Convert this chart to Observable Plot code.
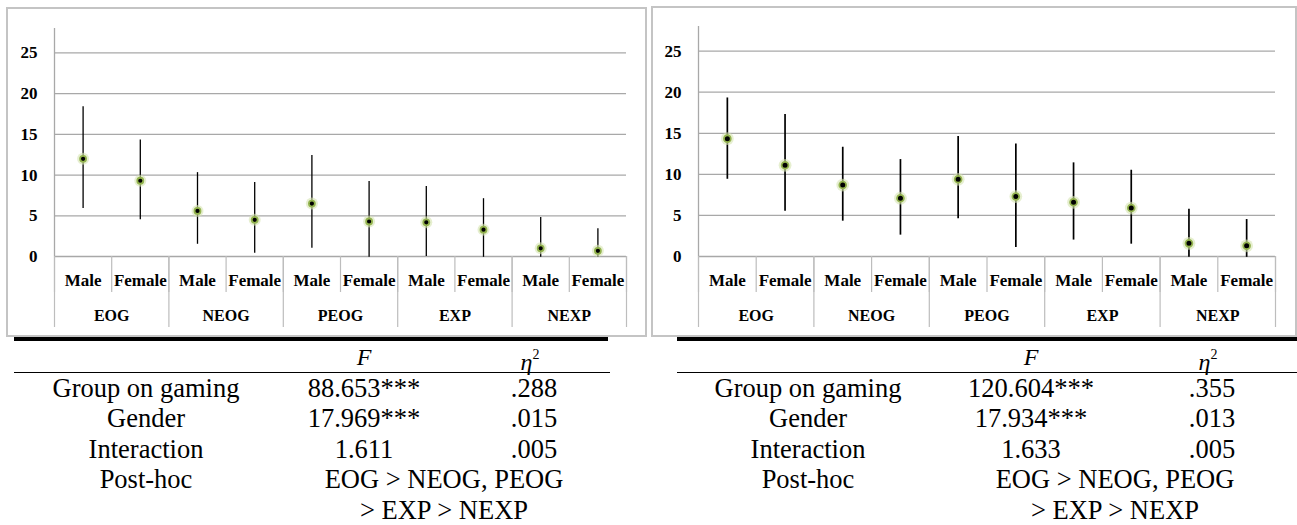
<!DOCTYPE html>
<html>
<head>
<meta charset="utf-8">
<script src="https://cdn.jsdelivr.net/npm/d3@7"></script>
<script src="https://cdn.jsdelivr.net/npm/@observablehq/plot@0.6"></script>
<style>
  html, body { margin:0; padding:0; background:#fff; }
  body { width:1297px; height:525px; position:relative; overflow:hidden; font-family:'Liberation Serif','Times New Roman',serif; color:#000; }
  .panel { position:absolute; border:2px solid #c4c4c4; box-sizing:border-box; background:#fff; }
  .chart { position:absolute; top:0; }
  .rule { position:absolute; background:#000; }
  .cell { position:absolute; white-space:nowrap; transform:translateX(-50%); font-family:'Liberation Serif'; font-size:26.5px; line-height:30.5px; }
  .hdr { position:absolute; white-space:nowrap; transform:translateX(-50%); font-family:'Liberation Serif'; font-size:24px; line-height:24px; font-style:italic; }
  .hdr sup { font-style:normal; font-size:14px; position:relative; top:-2px; }
</style>
</head>
<body>
<div class="panel" style="left:6px;top:7px;width:641px;height:330px;"></div>
<div class="panel" style="left:651px;top:6px;width:646px;height:331px;"></div>
<div id="c1" class="chart" style="left:0px;"></div>
<div id="c2" class="chart" style="left:650px;"></div>
<div id="t1"></div>
<div id="t2"></div>
<script>
// ---- data ----
const groups = ["EOG", "NEOG", "PEOG", "EXP", "NEXP"];
const genders = ["Male", "Female"];
const yTicks = [0, 5, 10, 15, 20, 25];

const leftMean = [12.0, 9.3, 5.6, 4.5, 6.5, 4.3, 4.2, 3.3, 1.0, 0.7];
const leftLow  = [5.9, 4.5, 1.5, 0.4, 1.0, -0.1, 0.0, -0.1, -0.1, -0.1];
const leftHigh = [18.4, 14.3, 10.3, 9.1, 12.4, 9.2, 8.6, 7.1, 4.8, 3.4];

const rightMean = [14.35, 11.1, 8.7, 7.1, 9.4, 7.3, 6.6, 5.9, 1.6, 1.3];
const rightLow  = [9.4, 5.5, 4.3, 2.6, 4.6, 1.1, 2.0, 1.5, -0.1, -0.1];
const rightHigh = [19.3, 17.3, 13.3, 11.8, 14.6, 13.7, 11.4, 10.5, 5.75, 4.5];

const rowLabels = ["Group on gaming", "Gender", "Interaction", "Post-hoc"];
const leftF   = ["88.653***", "17.969***", "1.611"];
const leftEta = [".288", ".015", ".005"];
const rightF   = ["120.604***", "17.934***", "1.633"];
const rightEta = [".355", ".013", ".005"];
const postHoc = ["EOG > NEOG, PEOG", "> EXP > NEXP"];

// ---- charts ----
function makeChart(mean, low, high, layout) {
  const n = mean.length;
  const data = mean.map((m, i) => ({
    x: i + 0.5, m, lo: low[i], hi: high[i],
    gender: genders[i % genders.length]
  }));
  const groupData = groups.map((name, j) => ({ x: j * 2 + 1, name }));
  const bounds = d3.range(n + 1);
  const groupBounds = d3.range(0, n + 1, 2);
  const gridColor = "#a8a8a8";
  return Plot.plot({
    width: layout.width,
    height: 337,
    marginLeft: layout.marginLeft,
    marginRight: layout.marginRight,
    marginTop: layout.marginTop,
    marginBottom: 81,
    style: { background: "transparent", fontFamily: "'Liberation Serif'", color: "#000" },
    x: { domain: [0, n], axis: null },
    y: { domain: [0, 28], axis: null },
    marks: [
      Plot.gridY(yTicks, { stroke: gridColor, strokeOpacity: 1, strokeWidth: 1.3 }),
      Plot.ruleX([0], { stroke: gridColor, strokeWidth: 1.3 }),
      Plot.axisX(bounds, { tickSize: 36, tickFormat: () => "", stroke: "#bdbdbd", strokeWidth: 1.2, label: null }),
      Plot.axisX(groupBounds, { tickSize: 71, tickFormat: () => "", stroke: "#bdbdbd", strokeWidth: 1.2, label: null }),
      Plot.axisY(yTicks, { tickSize: 0, tickPadding: 17, fontSize: 17, fontWeight: "bold", fontFamily: "Liberation Serif", label: null }),
      Plot.text(data, { x: "x", text: "gender", frameAnchor: "bottom", lineAnchor: "middle", dy: 24, fontSize: 17, fontWeight: "bold", fontFamily: "Liberation Serif" }),
      Plot.text(groupData, { x: "x", text: "name", frameAnchor: "bottom", lineAnchor: "middle", dy: 59, fontSize: 16, fontWeight: "bold", fontFamily: "Liberation Serif" }),
      Plot.ruleX(data, { x: "x", y1: "lo", y2: "hi", stroke: "#000", strokeWidth: layout.barWidth }),
      Plot.dot(data, { x: "x", y: "m", r: layout.r + 3, fill: "#d6e4b0", fillOpacity: 0.6 }),
      Plot.dot(data, { x: "x", y: "m", r: layout.r, fill: "#000", stroke: "#93b34e", strokeWidth: 1.8 })
    ]
  });
}

document.getElementById("c1").appendChild(makeChart(leftMean, leftLow, leftHigh,
  { width: 650, marginLeft: 54, marginRight: 24, marginTop: 28, barWidth: 1.3, r: 3 }));
document.getElementById("c2").appendChild(makeChart(rightMean, rightLow, rightHigh,
  { width: 647, marginLeft: 48, marginRight: 22, marginTop: 26, barWidth: 1.7, r: 3.4 }));

// ---- tables ----
function makeTable(el, fVals, etaVals, L) {
  const add = (cls, html, left, top, style = "") => {
    const d = document.createElement("div");
    d.className = cls;
    d.innerHTML = html;
    d.style.cssText = `left:${left}px;top:${top}px;${style}`;
    el.appendChild(d);
  };
  add("rule", "", L.x0, 337, `width:${L.x1 - L.x0}px;height:4px;`);
  add("rule", "", L.x0, 371.5, `width:${L.x1 - L.x0 + 2}px;height:1.5px;`);
  add("hdr", "F", L.cF, 345);
  add("hdr", "η<sup>2</sup>", L.cE - 4, 345);
  const top0 = 372.5, step = 30.5;
  rowLabels.forEach((t, i) => add("cell", t, L.c1, top0 + i * step));
  fVals.forEach((t, i) => add("cell", t, L.cF, top0 + i * step));
  etaVals.forEach((t, i) => add("cell", t, L.cE, top0 + i * step));
  postHoc.forEach((t, i) => add("cell", t, L.cP, top0 + (3 + i) * step));
}
makeTable(document.getElementById("t1"), leftF, leftEta, { x0: 14, x1: 608, c1: 146, cF: 364, cE: 534, cP: 444 });
makeTable(document.getElementById("t2"), rightF, rightEta, { x0: 677, x1: 1297, c1: 808, cF: 1031, cE: 1212, cP: 1115 });
</script>
</body>
</html>
